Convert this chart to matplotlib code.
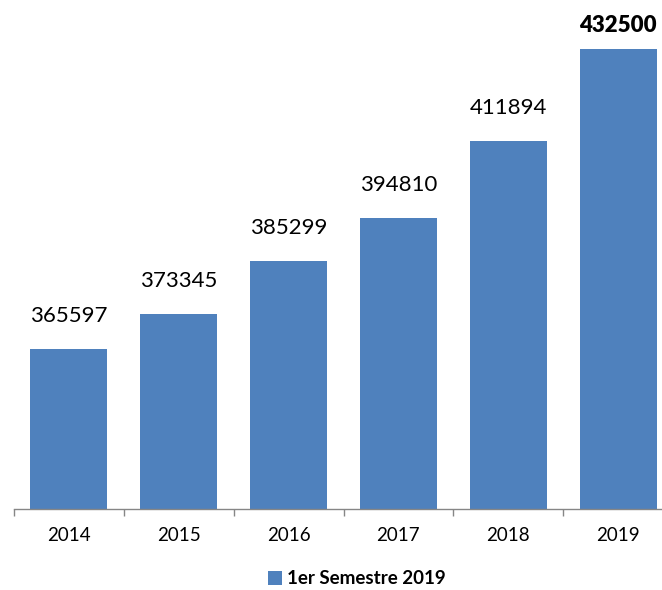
import matplotlib
matplotlib.use('Agg')
import matplotlib.pyplot as plt
from matplotlib.patches import Patch
import numpy as np

# data
years = ['2014', '2015', '2016', '2017', '2018', '2019']
values = [365597, 373345, 385299, 394810, 411894, 432500]
legend_label = '1er Semestre 2019'

bar_color = '#4F81BD'
axis_color = '#868686'

plt.rcParams['font.family'] = ['Lato', 'DejaVu Sans']

W, H = 662, 590
fig = plt.figure(figsize=(W / 100, H / 100), dpi=100)
# axes run a bit past the right edge, like the original export
ax = fig.add_axes([14 / W, 81.5 / H, 659 / W, 493.2 / H])

x = np.arange(len(years))
ax.bar(x, values, width=0.7, color=bar_color, linewidth=0)

ax.set_xlim(-0.5, len(years) - 0.5)
ax.set_ylim(330000, 440000)

# value labels above bars, last one in bold and pulled closer
for i, v in enumerate(values):
    last = i == len(values) - 1
    ax.annotate(str(v), (x[i], v), xytext=(0, 13 if last else 23),
                textcoords='offset pixels', ha='center', va='bottom',
                fontsize=16, fontweight='heavy' if last else 'normal',
                color='black')

for s in ['top', 'right', 'left']:
    ax.spines[s].set_visible(False)
ax.spines['bottom'].set_color(axis_color)
ax.spines['bottom'].set_linewidth(1.0)
ax.set_yticks([])

# ticks at category boundaries, labels at centres
ax.set_xticks(np.arange(len(years) + 1) - 0.5)
ax.set_xticklabels([])
ax.tick_params(axis='x', which='major', length=5, width=1.0, color=axis_color,
               direction='out')
ax.set_xticks(x, minor=True)
ax.set_xticklabels(years, minor=True, fontsize=13.5)
ax.tick_params(axis='x', which='minor', length=0, pad=13)

fig.legend(handles=[Patch(facecolor=bar_color, label=legend_label)],
           loc='center', bbox_to_anchor=(357 / W, 1 - 579 / H),
           frameon=False, handlelength=0.75, handleheight=0.75,
           handletextpad=0.3, prop={'weight': 'bold', 'size': 13.5})

fig.savefig('out.png', dpi=100)
